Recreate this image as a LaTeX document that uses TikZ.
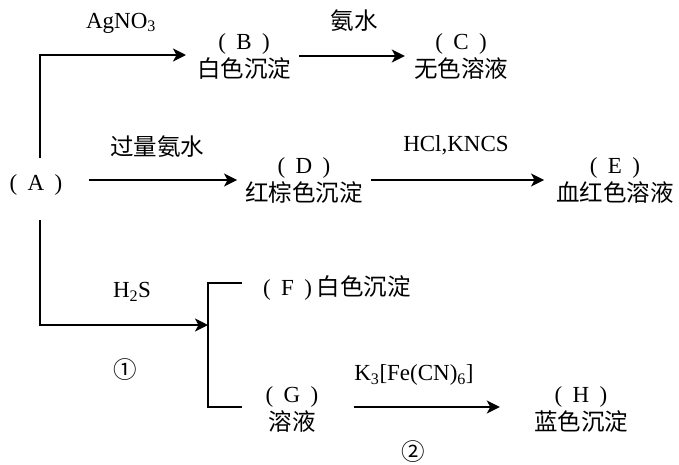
\documentclass[tikz,border=0pt]{standalone}
\usepackage{fontspec}
\setmainfont{Liberation Serif}
\newfontfamily\cjk{Noto Sans CJK SC}
\usetikzlibrary{arrows.meta,calc}
\newcommand{\pl}[1]{(\hspace{.45em}#1\hspace{.45em})}
\newcommand{\zh}{\cjk\fontsize{23.5}{28}\selectfont}
\begin{document}
\begin{tikzpicture}[x=1pt,y=-1pt,
  arr/.style={line width=2.2pt,-{Stealth[length=13pt,width=13pt,inset=3.5pt]}},
  ln/.style={line width=2.2pt},
  lab/.style={inner sep=0pt,font=\fontsize{23}{28}\selectfont},
  cn/.style={inner sep=0pt,font=\zh},
  two/.style={inner sep=0pt,align=center,font=\fontsize{23}{28}\selectfont}]
\useasboundingbox (0,0) rectangle (679,464);
% nodes
\node[lab] (A) at (36,185) {\pl{A}};
\node[two] (B) at (244,56) {\pl{B}\\{\zh 白色沉淀}};
\node[two] (C) at (461,56) {\pl{C}\\{\zh 无色溶液}};
\node[two] (D) at (304,180) {\pl{D}\\{\zh 红棕色沉淀}};
\node[two] (E) at (615,180) {\pl{E}\\{\zh 血红色溶液}};
\node[lab,anchor=west] (F) at (263,288) {\pl{F}\hspace{.2em}{\zh 白色沉淀}};
\node[two] (G) at (292,409) {\pl{G}\\{\zh 溶液}};
\node[two] (H) at (581,409) {\pl{H}\\{\zh 蓝色沉淀}};
% labels
\node[lab] (l1) at (121,23) {AgNO\textsubscript{3}};
\node[cn] (l2) at (354,21) {氨水};
\node[cn] (l3) at (157,147) {过量氨水};
\node[lab] (l4) at (456,145) {HCl,KNCS};
\node[lab] (l5) at (132,292) {H\textsubscript{2}S};
\node[cn] (l6) at (125,370) {①};
\node[lab] (l7) at (414,375) {K\textsubscript{3}[Fe(CN)\textsubscript{6}]};
\node[cn] (l8) at (413,452) {②};
% coordinates
\coordinate (a1) at (40,158);
\coordinate (a2) at (40,220);
\coordinate (bt) at (186,55);
\coordinate (br) at (208,325);
\coordinate (bt1) at (242,283);
\coordinate (bt2) at (242,407);
% connectors
\draw[arr] (a1) |- (bt);
\draw[arr] ([xshift=8pt]B.east) -- ([xshift=-9pt]C.west);
\draw[arr] ($(A.east|-D.west)+(26,0)$) -- ([xshift=-8pt]D.west);
\draw[arr] ([xshift=8pt]D.east) -- ([xshift=-12pt]E.west);
\draw[arr] (a2) |- (br);
\draw[ln] (bt1) -| (br) |- (bt2);
\draw[arr] ($(G.east|-bt2)+(35,0)$) -- ($(H.west|-bt2)+(-34,0)$);
\end{tikzpicture}
\end{document}
